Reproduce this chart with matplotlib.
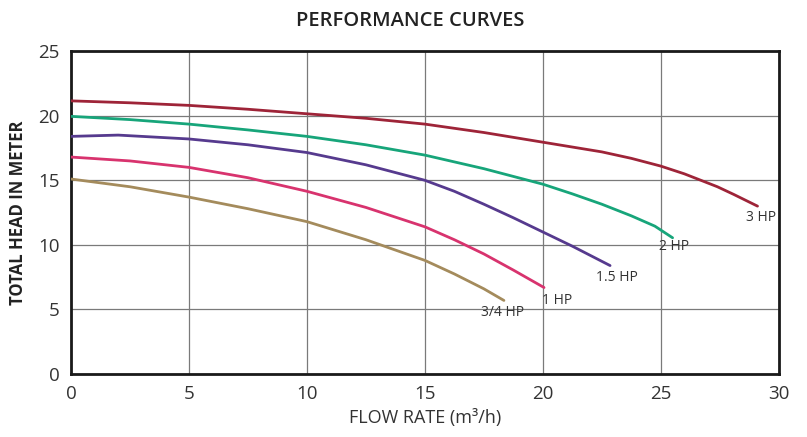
import matplotlib
matplotlib.use("Agg")
import matplotlib.pyplot as plt

# values
flow_3hp = [0, 2.5, 5, 7.5, 10, 12.5, 15, 17.5, 20, 22.5, 23.75, 25, 26, 26.7, 27.4, 28.1, 29.1]
head_3hp = [21.15, 21.0, 20.8, 20.5, 20.15, 19.8, 19.35, 18.7, 17.95, 17.2, 16.7, 16.1, 15.5, 15.0, 14.5, 13.9, 13.0]

flow_2hp = [0, 2.5, 5, 7.5, 10, 12.5, 15, 17.5, 20, 21.25, 22.5, 23.75, 24.75, 25.5]
head_2hp = [19.95, 19.7, 19.35, 18.9, 18.4, 17.75, 16.95, 15.9, 14.7, 13.95, 13.15, 12.25, 11.45, 10.55]

flow_15hp = [0, 2, 5, 7.5, 10, 12.5, 15, 16.25, 17.5, 18.75, 20, 21.25, 22.85]
head_15hp = [18.4, 18.5, 18.2, 17.75, 17.15, 16.2, 15.0, 14.15, 13.15, 12.1, 11.0, 9.9, 8.4]

flow_1hp = [0, 2.5, 5, 7.5, 10, 12.5, 15, 16.25, 17.5, 18.75, 20.05]
head_1hp = [16.8, 16.5, 16.0, 15.2, 14.15, 12.9, 11.4, 10.4, 9.3, 8.05, 6.7]

flow_34hp = [0, 2.5, 5, 7.5, 10, 12.5, 15, 16.25, 17.5, 18.35]
head_34hp = [15.1, 14.5, 13.7, 12.8, 11.8, 10.4, 8.8, 7.75, 6.6, 5.7]

labels = ["3 HP", "2 HP", "1.5 HP", "1 HP", "3/4 HP"]
label_pos = [(29.25, 12.15), (25.55, 9.9), (23.15, 7.5), (20.6, 5.7), (18.3, 4.8)]
colors = ["#9e2438", "#17a57a", "#563a8e", "#d8336e", "#a48b5c"]

plt.rcParams['font.family'] = ['Open Sans', 'DejaVu Sans']

fig = plt.figure(figsize=(8.07, 4.37), dpi=100)
ax = fig.add_axes([0.088, 0.144, 0.877, 0.739])

curves = [(flow_3hp, head_3hp), (flow_2hp, head_2hp), (flow_15hp, head_15hp),
          (flow_1hp, head_1hp), (flow_34hp, head_34hp)]
for (x, y), c, lab, pos in zip(curves, colors, labels, label_pos):
    ax.plot(x, y, color=c, lw=2, solid_capstyle='round', solid_joinstyle='round', zorder=3)
    ax.text(pos[0], pos[1], lab, color="#333333", fontsize=10, ha='center', va='center', zorder=4)

ax.set_xlim(0, 30)
ax.set_ylim(0, 25)
ax.set_xticks(range(0, 31, 5))
ax.set_yticks(range(0, 26, 5))
ax.grid(True, color="#7a7a7a", lw=0.9)
ax.set_axisbelow(True)
for side in ax.spines.values():
    side.set_linewidth(2)
    side.set_color("#1a1a1a")
ax.tick_params(length=0, labelsize=13.5, labelcolor="#333333", pad=8)

ax.set_xlabel("FLOW RATE (m³/h)", fontsize=13, color="#333333", labelpad=4)
ax.set_ylabel("TOTAL HEAD IN METER", fontsize=12, fontweight='bold', color="#222222", labelpad=8)
fig.text(0.508, 0.952, "PERFORMANCE CURVES", ha='center', va='center', fontsize=14.5,
         fontweight='semibold', color="#222222")

fig.savefig("out.png", dpi=100)
